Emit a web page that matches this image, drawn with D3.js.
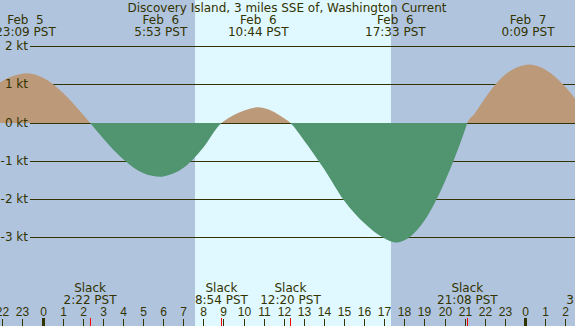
<!DOCTYPE html>
<html>
<head>
<meta charset="utf-8">
<script src="https://cdn.jsdelivr.net/npm/d3@7"></script>
<style>
  html, body { margin: 0; padding: 0; background: #b0c4de; }
  svg { display: block; font-family: "DejaVu Sans", sans-serif; font-size: 12px; }
  text { fill: #333300; }
</style>
</head>
<body>
<div id="chart"></div>
<script>
// Tidal current, Discovery Island. Hours are counted from Feb 6 00:00 PST.
const TITLE = 'Discovery Island, 3 miles SSE of, Washington Current';

const hours = [-3, -2, -1, -0.85, 0, 1, 2, 2.367, 3, 4, 5, 5.883, 6, 7, 8, 8.9, 9, 10, 10.733, 11, 12, 12.333,
  13, 14, 15, 16, 17, 17.55, 18, 19, 20, 21, 21.133, 21.5, 22, 23, 24, 24.15, 25, 26, 27];
const knots = [0.65, 1.10, 1.29, 1.30, 1.19, 0.80, 0.23, 0, -0.39, -0.94, -1.31, -1.41, -1.40, -1.18, -0.64, 0, 0.04, 0.32, 0.41, 0.39, 0.13, 0,
  -0.45, -1.20, -2.03, -2.62, -3.02, -3.13, -3.07, -2.55, -1.55, -0.20, 0, 0.25, 0.64, 1.26, 1.52, 1.53, 1.40, 0.95, 0.27];

// max / min current labels along the top
const peakHours = [-0.85, 5.883, 10.733, 17.55, 24.15];
const peakDates = ['Feb  5', 'Feb  6', 'Feb  6', 'Feb  6', 'Feb  7'];
const peakTimes = ['23:09 PST', '5:53 PST', '10:44 PST', '17:33 PST', '0:09 PST'];

// slack water
const slackHours = [2.367, 8.9, 12.333, 21.133, 27.37];
const slackTimes = ['2:22 PST', '8:54 PST', '12:20 PST', '21:08 PST', '3:22 PST'];

const sunrise = 7.58;
const sunset = 17.33;

const ktTicks = [2, 1, 0, -1, -2, -3];
const hourTicks = d3.range(-2, 27);

const W = 575, H = 326;
const NIGHT = '#b0c4de', DAY = '#e0f8ff';
const FLOOD = '#bc9a79', EBB = '#519470', INK = '#333300';

const x = d3.scaleLinear().domain([0, 24]).range([42.5, 525]);
const y = d3.scaleLinear().domain([2, -3]).range([46.6, 237.6]);
const zeroY = Math.floor(y(0));

const svg = d3.select('#chart').append('svg').attr('width', W).attr('height', H);

svg.append('rect').attr('width', W).attr('height', H).attr('fill', NIGHT);
svg.append('rect')
  .attr('x', Math.round(x(sunrise))).attr('y', 0)
  .attr('width', Math.round(x(sunset)) - Math.round(x(sunrise))).attr('height', H)
  .attr('fill', DAY);

// kt gridlines (under the fills); their labels go on top of the fills below
const yAxis = svg.append('g')
  .attr('transform', 'translate(30,0)')
  .call(d3.axisLeft(y).tickValues(ktTicks).tickSize(-(W - 30)).tickFormat(''));
yAxis.select('.domain').remove();
yAxis.selectAll('.tick').attr('transform', (d) => `translate(0,${Math.floor(y(d)) + 0.5})`);
yAxis.selectAll('.tick line').attr('stroke', INK);
yAxis.selectAll('.tick text').remove();

// flood / ebb fills
const pts = hours.map((h, i) => ({ h, v: knots[i] }));
const area = d3.area()
  .x((d) => x(d.h))
  .y0(zeroY)
  .y1((d) => y(d.v))
  .curve(d3.curveMonotoneX);

const defs = svg.append('defs');
defs.append('clipPath').attr('id', 'clip-flood')
  .append('rect').attr('x', 0).attr('y', 0).attr('width', W).attr('height', zeroY);
defs.append('clipPath').attr('id', 'clip-ebb')
  .append('rect').attr('x', 0).attr('y', zeroY).attr('width', W).attr('height', H - zeroY);

svg.append('path').datum(pts).attr('d', area).attr('fill', FLOOD).attr('clip-path', 'url(#clip-flood)');
svg.append('path').datum(pts).attr('d', area).attr('fill', EBB).attr('clip-path', 'url(#clip-ebb)');

// kt labels
svg.append('g').selectAll('text')
  .data(ktTicks)
  .join('text')
  .attr('x', 28)
  .attr('y', (d) => Math.floor(y(d)) + 0.5)
  .attr('dy', '0.32em')
  .attr('text-anchor', 'end')
  .text((d) => `${d} kt`);

// title and peak labels
svg.append('text').attr('x', 287).attr('y', 11.5).attr('text-anchor', 'middle').text(TITLE);

peakHours.forEach((h, i) => {
  const t = svg.append('text').attr('text-anchor', 'middle').style('white-space', 'pre');
  t.append('tspan').attr('x', x(h)).attr('y', 24).text(peakDates[i]);
  t.append('tspan').attr('x', x(h)).attr('y', 36).text(peakTimes[i]);
});

// slack labels
slackHours.forEach((h, i) => {
  const t = svg.append('text').attr('text-anchor', 'middle');
  t.append('tspan').attr('x', x(h)).attr('y', 291.5).text('Slack');
  t.append('tspan').attr('x', x(h)).attr('y', 304.3).text(slackTimes[i]);
});

// hour ticks along the bottom
const xAxis = svg.append('g')
  .attr('transform', `translate(0,${H})`)
  .call(d3.axisTop(x).tickValues(hourTicks).tickSize(7).tickPadding(3).tickFormat((d) => ((d % 24) + 24) % 24));
xAxis.select('.domain').remove();
xAxis.selectAll('.tick').attr('transform', (d) => `translate(${Math.round(x(d)) + 0.5},0)`);
xAxis.selectAll('.tick line').attr('stroke', INK);
xAxis.selectAll('.tick text').attr('fill', INK).attr('font-size', 12).attr('font-family', null);
xAxis.selectAll('.tick').filter((d) => d % 24 === 0)
  .select('line').attr('stroke-width', 3).attr('y2', -8);

svg.selectAll('line.slack')
  .data(slackHours)
  .join('line')
  .attr('class', 'slack')
  .attr('x1', (d) => Math.round(x(d)) + 0.5)
  .attr('x2', (d) => Math.round(x(d)) + 0.5)
  .attr('y1', H - 8)
  .attr('y2', H)
  .attr('stroke', '#ff0000');
</script>
</body>
</html>
